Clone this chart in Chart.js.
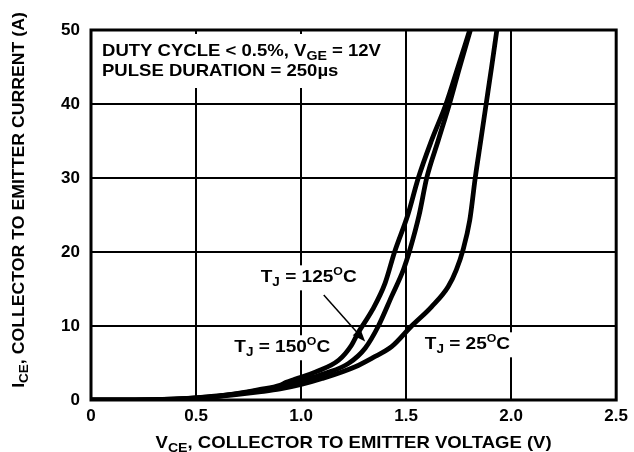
<!DOCTYPE html>
<html>
<head>
<meta charset="utf-8">
<script src="https://cdn.jsdelivr.net/npm/chart.js@4.4.0/dist/chart.umd.min.js"></script>
<style>
  html, body { margin: 0; padding: 0; background: #fff; }
  #wrap { width: 634px; height: 452px; }
</style>
</head>
<body>
<div id="wrap"><canvas id="chart" width="634" height="452"></canvas></div>
<script>
// x tick values and their printed labels
var xTicks = [0, 0.5, 1.0, 1.5, 2.0, 2.5];
var xTickLabels = ['0', '0.5', '1.0', '1.5', '2.0', '2.5'];
var yTicks = [0, 10, 20, 30, 40, 50];

// T_J = 150C  (V_CE in volts, I_CE in amps)
var vce150 = [0, 0.3, 0.5, 0.6, 0.7, 0.8, 0.9, 0.93, 0.97, 1.07, 1.18, 1.24, 1.27, 1.34, 1.40, 1.445, 1.508, 1.558, 1.62, 1.69, 1.747, 1.803];
var ice150 = [0, 0.05, 0.3, 0.55, 0.9, 1.4, 2.0, 2.4, 2.8, 3.8, 5.4, 7.4, 9.0, 12.2, 15.8, 20, 25, 30, 35, 40, 45, 50];

// T_J = 125C
var vce125 = [0, 0.3, 0.5, 0.6, 0.7, 0.8, 0.9, 0.99, 1.116, 1.226, 1.305, 1.368, 1.431, 1.487, 1.518, 1.562, 1.598, 1.652, 1.706, 1.755, 1.806];
var ice125 = [0, 0.05, 0.3, 0.5, 0.85, 1.3, 1.8, 2.5, 3.6, 4.95, 7.0, 10, 14, 17.6, 20.3, 25, 30, 35, 40, 45, 50];

// T_J = 25C
var vce25 = [0, 0.3, 0.5, 0.6, 0.7, 0.8, 0.9, 1.0, 1.1, 1.258, 1.34, 1.431, 1.526, 1.621, 1.70, 1.739, 1.771, 1.803, 1.829, 1.855, 1.881, 1.907, 1.932];
var ice25 = [0, 0.05, 0.25, 0.45, 0.75, 1.1, 1.5, 2.1, 2.9, 4.5, 5.7, 7.2, 10, 12.6, 15.3, 17.6, 20.3, 24.3, 30, 35, 40, 45, 50];

// annotation anchors in data units
var label125 = [0.808, 15.9];
var label150 = [0.682, 6.45];
var label25 = [1.589, 6.85];
var arrowFrom = [1.108, 14.2];
var arrowTo = [1.305, 7.9];

var FONT = '"Liberation Sans", Arial, Helvetica, sans-serif';

function toPoints(xs, ys) {
    var pts = [];
    for (var i = 0; i < xs.length; i++) {
        pts.push({ x: xs[i], y: ys[i] });
    }
    return pts;
}

function curve(label, xs, ys) {
    return {
        label: label,
        data: toPoints(xs, ys),
        showLine: true,
        borderColor: '#000',
        backgroundColor: '#000',
        borderWidth: 4.8,
        pointRadius: 0,
        cubicInterpolationMode: 'monotone',
        fill: false
    };
}

// text runs are [text, size, dy]; stretch widens them a little like the original lettering
function runsWidth(ctx, runs, stretch) {
    var w = 0;
    runs.forEach(function (r) {
        ctx.font = 'bold ' + r[1] + 'px ' + FONT;
        w += ctx.measureText(r[0]).width;
    });
    return w * stretch;
}

function drawRuns(ctx, runs, x, y, stretch) {
    ctx.save();
    ctx.translate(x, y);
    ctx.scale(stretch, 1);
    ctx.textBaseline = 'alphabetic';
    ctx.textAlign = 'left';
    var cx = 0;
    runs.forEach(function (r) {
        ctx.font = 'bold ' + r[1] + 'px ' + FONT;
        ctx.fillText(r[0], cx, r[2]);
        cx += ctx.measureText(r[0]).width;
    });
    ctx.restore();
}

function tjRuns(temp) {
    return [['T', 17, 0], ['J', 12, 4], [' = ' + temp, 17, 0], ['O', 11, -7], ['C', 17, 0]];
}

var textPlugin = {
    id: 'texts',
    beforeDatasetsDraw: function (chart) {
        var ctx = chart.ctx;
        var sx = chart.scales.x, sy = chart.scales.y;
        ctx.save();
        ctx.fillStyle = '#fff';
        // header box
        ctx.fillRect(sx.left + 3, sy.top + 4, 300, 54);

        var labels = [[label125, '125'], [label150, '150'], [label25, '25']];
        labels.forEach(function (l) {
            var px = sx.getPixelForValue(l[0][0]);
            var py = sy.getPixelForValue(l[0][1]);
            var w = runsWidth(ctx, tjRuns(l[1]), 1.12);
            ctx.fillStyle = '#fff';
            ctx.fillRect(px - 4, py - 17, w + 8, 25);
            ctx.fillStyle = '#000';
            drawRuns(ctx, tjRuns(l[1]), px, py, 1.12);
        });

        ctx.fillStyle = '#000';
        var hx = sx.left + 11;
        drawRuns(ctx, [['DUTY CYCLE < 0.5%, V', 17, 0], ['GE', 13, 4], [' = 12V', 17, 0]], hx, sy.top + 26, 1.09);
        drawRuns(ctx, [['PULSE DURATION = 250\u00b5s', 17, 0]], hx, sy.top + 46, 1.09);
        ctx.restore();
    },
    afterDatasetsDraw: function (chart) {
        var ctx = chart.ctx;
        var sx = chart.scales.x, sy = chart.scales.y;
        ctx.save();
        // arrow
        var x1 = sx.getPixelForValue(arrowFrom[0]), y1 = sy.getPixelForValue(arrowFrom[1]);
        var x2 = sx.getPixelForValue(arrowTo[0]), y2 = sy.getPixelForValue(arrowTo[1]);
        var ang = Math.atan2(y2 - y1, x2 - x1);
        ctx.strokeStyle = '#000';
        ctx.lineWidth = 1.5;
        ctx.beginPath();
        ctx.moveTo(x1, y1);
        ctx.lineTo(x2 - 8 * Math.cos(ang), y2 - 8 * Math.sin(ang));
        ctx.stroke();
        ctx.fillStyle = '#000';
        ctx.beginPath();
        ctx.moveTo(x2, y2);
        ctx.lineTo(x2 - 13 * Math.cos(ang) + 5 * Math.sin(ang), y2 - 13 * Math.sin(ang) - 5 * Math.cos(ang));
        ctx.lineTo(x2 - 13 * Math.cos(ang) - 5 * Math.sin(ang), y2 - 13 * Math.sin(ang) + 5 * Math.cos(ang));
        ctx.closePath();
        ctx.fill();

        // frame
        var a = chart.chartArea;
        ctx.lineWidth = 3;
        ctx.strokeRect(a.left, a.top, a.right - a.left, a.bottom - a.top);
        ctx.restore();
    },
    afterDraw: function (chart) {
        var ctx = chart.ctx;
        var a = chart.chartArea;
        ctx.save();
        ctx.fillStyle = '#000';
        // x title
        var xr = [['V', 17, 0], ['CE', 13, 4], [', COLLECTOR TO EMITTER VOLTAGE (V)', 17, 0]];
        var xw = runsWidth(ctx, xr, 1.09);
        drawRuns(ctx, xr, (a.left + a.right) / 2 - xw / 2, 448, 1.09);
        // y title
        var yr = [['I', 17, 0], ['CE', 13, 4], [', COLLECTOR TO EMITTER CURRENT (A)', 17, 0]];
        var yw = runsWidth(ctx, yr, 1.04);
        ctx.translate(24, 200);
        ctx.rotate(-Math.PI / 2);
        drawRuns(ctx, yr, -yw / 2, 0, 1.04);
        ctx.restore();
    }
};

var chart = new Chart(document.getElementById('chart').getContext('2d'), {
    type: 'scatter',
    data: {
        datasets: [
            curve('T_J = 150C', vce150, ice150),
            curve('T_J = 125C', vce125, ice125),
            curve('T_J = 25C', vce25, ice25)
        ]
    },
    options: {
        responsive: false,
        animation: false,
        devicePixelRatio: 1,
        layout: {
            padding: { top: 30, right: 15, left: 0, bottom: 0 }
        },
        plugins: {
            legend: { display: false },
            tooltip: { enabled: false }
        },
        scales: {
            x: {
                type: 'linear',
                min: 0,
                max: 2.5,
                afterFit: function (scale) { scale.height = 52; },
                afterBuildTicks: function (scale) {
                    scale.ticks = xTicks.map(function (v) { return { value: v }; });
                },
                grid: { color: '#000', lineWidth: 2, drawTicks: false },
                border: { display: false },
                ticks: {
                    color: '#000',
                    padding: 6,
                    font: { family: FONT, size: 17, weight: 'bold' },
                    callback: function (v) {
                        var i = xTicks.indexOf(v);
                        return i >= 0 ? xTickLabels[i] : v.toFixed(1);
                    }
                }
            },
            y: {
                type: 'linear',
                min: 0,
                max: 50,
                afterFit: function (scale) { scale.width = 91; },
                afterBuildTicks: function (scale) {
                    scale.ticks = yTicks.map(function (v) { return { value: v }; });
                },
                grid: { color: '#000', lineWidth: 2, drawTicks: false },
                border: { display: false },
                ticks: {
                    color: '#000',
                    padding: 11,
                    font: { family: FONT, size: 17, weight: 'bold' }
                }
            }
        }
    },
    plugins: [textPlugin]
});
</script>
</body>
</html>
